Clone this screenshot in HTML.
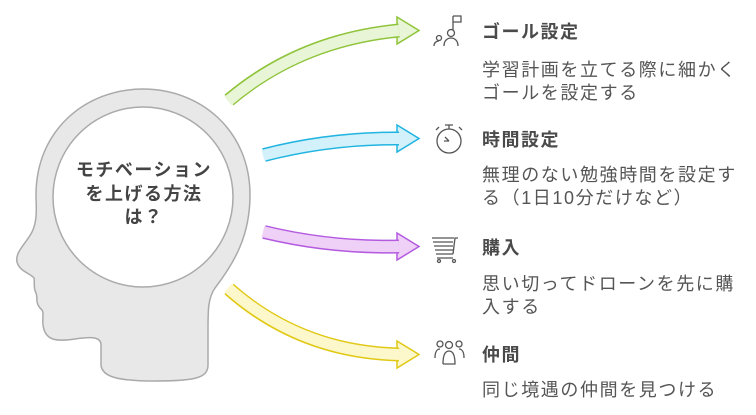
<!DOCTYPE html>
<html><head><meta charset="utf-8"><style>
body{margin:0;background:#fff;width:756px;height:415px;overflow:hidden;font-family:"Liberation Sans","Noto Sans CJK JP",sans-serif;}
svg{position:absolute;left:0;top:0}
.t{position:absolute;left:482px;font-weight:bold;font-size:18px;letter-spacing:1.5px;color:#4a4a4a;line-height:22px;white-space:nowrap}
.d{position:absolute;left:482px;font-size:18px;letter-spacing:1.6px;color:#555;line-height:23px;width:280px;white-space:nowrap}
</style></head><body>
<svg width="756" height="415" viewBox="0 0 756 415">
<path d="M143,89 C200,89 250,130 250,195 C250,235 235,262 215,288 C208,298 208,310 208,330 L208,365 C208,378 195,381 155,381 C115,381 102,376 101,365 L101,345 C101,338 95,336 75,339 C55,342 45,340 43,325 C42,315 45,312 40,308 C35,302 38,298 36,293 C33,287 35,283 34,278 C30,273 20,272 17,262 C15,252 25,245 32,232 C38,220 36,205 36,195 C36,130 86,89 143,89 Z" fill="#e8e8e8" stroke="#aaa" stroke-width="1.5"/>
<ellipse cx="143" cy="197" rx="90" ry="90" fill="#fff" stroke="#aaa" stroke-width="1.5"/>
<g font-size="18" font-weight="bold" fill="#444" letter-spacing="1.5" text-anchor="middle">
<text x="144" y="176">モチベーション</text>
<text x="144" y="200">を上げる方法</text>
<text x="144" y="223">は？</text>
</g>
<g stroke-linejoin="miter">
<polygon points="397,17 419,30.5 397,44" fill="#e8f5d6" stroke="#8fc43a" stroke-width="1.5"/>
<path d="M229,100 Q300,40 399,30.5" fill="none" stroke="#8fc43a" stroke-width="14"/>
<path d="M228,101 Q300,40 399,30.5" fill="none" stroke="#e8f5d6" stroke-width="11"/>
<polygon points="397,125 419,138.5 397,152" fill="#d2f1fb" stroke="#21b4e0" stroke-width="1.5"/>
<path d="M264,155 Q330,138 399,138.5" fill="none" stroke="#21b4e0" stroke-width="14"/>
<path d="M263,155.3 Q330,138 399,138.5" fill="none" stroke="#d2f1fb" stroke-width="11"/>
<polygon points="397,233 419,246.5 397,260" fill="#efd1f8" stroke="#b45be0" stroke-width="1.5"/>
<path d="M264,232 Q330,248 399,246.5" fill="none" stroke="#b45be0" stroke-width="14"/>
<path d="M263,231.7 Q330,248 399,246.5" fill="none" stroke="#efd1f8" stroke-width="11"/>
<polygon points="397,341 419,354.5 397,368" fill="#fdf7cc" stroke="#e0c814" stroke-width="1.5"/>
<path d="M229,289 Q300,352 399,354.5" fill="none" stroke="#e0c814" stroke-width="14"/>
<path d="M228,288 Q300,352 399,354.5" fill="none" stroke="#fdf7cc" stroke-width="11"/>
</g>
<g fill="none" stroke="#555" stroke-width="1.3">
<path d="M453,16 V30 M453,16 h8 v6 h-8"/><circle cx="451" cy="33" r="3.5"/><path d="M444,46 c0,-6 4,-8 7,-8 s7,2 7,8"/><circle cx="439" cy="38" r="2.5"/><path d="M434,46 c0,-3 2,-5 5,-5"/>
<circle cx="449" cy="141" r="12"/><path d="M449,129 v-4 M445,125 h8 M449,141 h-5 M449,141 l-4,-4 M436,130 l3,-3 M462,130 l-3,-3"/>
<path d="M432,238 h22 M433,242 h20 M434,246 h19 M435,250 h18 M436,254 h17 M453,254 l2,-16 h3 M437,258 h16"/><circle cx="439" cy="261" r="1.5"/><circle cx="454" cy="261" r="1.5"/>
<circle cx="440" cy="344" r="3"/><circle cx="449" cy="345" r="3.5"/><circle cx="459" cy="344" r="3"/><path d="M435,358 c0,-6 2,-9 5,-9 M464,358 c0,-6 -2,-9 -5,-9 M443,364 c0,-8 2,-13 6,-13 s6,5 6,13 h-12"/>
</g>
</svg>
<div class="t" style="top:21px">ゴール設定</div>
<div class="d" style="top:59px">学習計画を立てる際に細かく<br>ゴールを設定する</div>
<div class="t" style="top:129px">時間設定</div>
<div class="d" style="top:164px">無理のない勉強時間を設定す<br>る（1日10分だけなど）</div>
<div class="t" style="top:237px">購入</div>
<div class="d" style="top:273px">思い切ってドローンを先に購<br>入する</div>
<div class="t" style="top:344px">仲間</div>
<div class="d" style="top:379px">同じ境遇の仲間を見つける</div>
</body></html>
